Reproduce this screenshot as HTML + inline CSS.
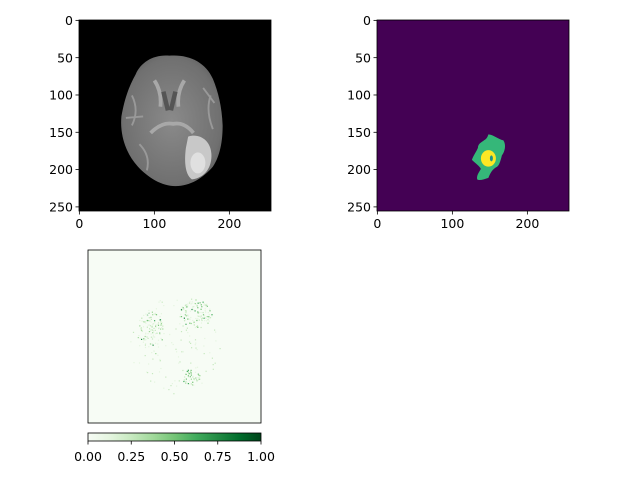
<!DOCTYPE html>
<html><head><meta charset="utf-8"><style>
body{margin:0;background:#fff}
svg{display:block;font-family:"DejaVu Sans","Liberation Sans",sans-serif}
text{font-size:12.5px;fill:#000}
</style></head><body>
<svg id="fig" width="640" height="480" viewBox="0 0 640 480" xmlns="http://www.w3.org/2000/svg">
<defs>
<linearGradient id="greens" x1="0" x2="1" y1="0" y2="0">
<stop offset="0" stop-color="#f7fcf5"/><stop offset="0.125" stop-color="#e5f5e0"/><stop offset="0.25" stop-color="#c7e9c0"/><stop offset="0.375" stop-color="#a1d99b"/><stop offset="0.5" stop-color="#74c476"/><stop offset="0.625" stop-color="#41ab5d"/><stop offset="0.75" stop-color="#238b45"/><stop offset="0.875" stop-color="#006d2c"/><stop offset="1" stop-color="#00441b"/>
</linearGradient>
<radialGradient id="brainShade" cx="0.5" cy="0.5" r="0.6">
<stop offset="0" stop-color="#8a8a8a"/><stop offset="0.8" stop-color="#707070"/><stop offset="1" stop-color="#5a5a5a"/>
</radialGradient>
<clipPath id="c1"><rect x="79" y="20" width="192" height="191"/></clipPath>
<clipPath id="c2"><rect x="377" y="20" width="192" height="191"/></clipPath>
</defs>

<g>
<rect x="79" y="20" width="192" height="191" fill="#000"/>
<g clip-path="url(#c1)">
<g transform="translate(79.4,20.4) scale(0.75)">
<path d="M120,47 C100,45 82,55 75,72 C66,88 60,105 56,128 C54,150 60,175 78,195 C92,210 110,221 128,221 C148,221 165,210 178,195 C188,180 191,160 191,140 C190,115 185,95 178,78 C168,55 145,45 120,47 Z" fill="url(#brainShade)"/>
<path d="M100,80 Q110,95 108,115 M140,80 Q130,95 132,115 M95,150 Q110,135 125,138 Q140,135 152,150" stroke="#a8a8a8" stroke-width="5" fill="none"/>
<path d="M112,95 L118,120 M128,95 L122,120" stroke="#555" stroke-width="6" fill="none"/>
<path d="M70,100 Q80,120 70,140 M175,100 Q168,120 178,145 M80,165 Q95,180 90,200 M62,130 L85,128 M165,90 L180,110" stroke="#999" stroke-width="2.5" fill="none"/>
<path d="M145,155 C160,150 175,160 176,178 C177,195 168,210 150,212 C140,205 140,185 142,170 Z" fill="#c8c8c8"/>
<ellipse cx="158" cy="190" rx="10" ry="14" fill="#e0e0e0"/>
</g>
</g>
<rect x="79" y="20" width="192" height="191" fill="none" stroke="#000" stroke-width="0.8"/>
<g id="ax1"></g>
</g>

<g>
<rect x="377" y="20" width="192" height="191" fill="#440154"/>
<g clip-path="url(#c2)">
<g transform="translate(377.4,20.4) scale(0.75)">
<path d="M148,152 C156,153 160,158 168,160 C172,166 170,175 166,180 C164,188 162,195 158,196 C152,200 150,205 148,210 C142,212 136,214 133,212 C132,206 136,202 138,198 C136,194 130,190 126,186 C128,180 132,175 134,170 C134,164 140,162 142,160 C146,158 147,155 148,152 Z" fill="#35b779"/>
<ellipse cx="148" cy="184" rx="10" ry="11" fill="#fde725"/>
<ellipse cx="152" cy="184" rx="2" ry="4" fill="#21918c"/>
</g>
</g>
<rect x="377" y="20" width="192" height="191" fill="none" stroke="#000" stroke-width="0.8"/>
<g id="ax2"></g>
</g>

<g>
<rect x="88" y="250" width="173" height="173" fill="#f7fcf5"/>
<g id="speckles"></g>
<rect x="88" y="250" width="173" height="173" fill="none" stroke="#000" stroke-width="0.8"/>
</g>

<g>
<rect x="88" y="433" width="173" height="8" fill="url(#greens)" stroke="#000" stroke-width="0.8"/>
<g id="cbticks"></g>
</g>
</svg>
<script>
const xTicks=[0,100,200];
const yTicks=[0,50,100,150,200,250];
const cbTicks=[0,0.25,0.5,0.75,1];
const cbLabels=["0.00","0.25","0.50","0.75","1.00"];
const NS="http://www.w3.org/2000/svg";
function mk(tag,attrs,parent){const e=document.createElementNS(NS,tag);for(const k in attrs)e.setAttribute(k,attrs[k]);parent.appendChild(e);return e;}
function axes(id,left,top,w,h){
  const g=document.getElementById(id);
  const sx=d=>left+(d+0.5)*w/256, sy=d=>top+(d+0.5)*h/256;
  xTicks.forEach(v=>{
    const x=sx(v);
    const l=mk('line',{x1:x,x2:x,y1:top+h,y2:top+h+3.5,stroke:'#000','stroke-width':0.8},g);
    
    
    const t=mk('text',{x:x,y:top+h+17,'text-anchor':'middle'},g);t.textContent=v;
    
    
  });
  yTicks.forEach(v=>{
    const y=sy(v);
    const l=mk('line',{x1:left-3.5,x2:left,y1:y,y2:y,stroke:'#000','stroke-width':0.8},g);
    
    
    const t=mk('text',{x:left-6,y:y+4.6,'text-anchor':'end'},g);t.textContent=v;
    
    
  });
}
axes('ax1',79,20,192,191);
axes('ax2',377,20,192,191);
const cb=document.getElementById('cbticks');
cbTicks.forEach((v,i)=>{
  const x=88+v*173;
  const l=mk('line',{x1:x,x2:x,y1:441,y2:444.5,stroke:'#000','stroke-width':0.8},cb);
  
  
  const t=mk('text',{x:x,y:461,'text-anchor':'middle'},cb);t.textContent=cbLabels[i];
  
  
});
let s=7;function rnd(){s=(s*16807)%2147483647;return s/2147483647;}
const sp=document.getElementById('speckles');
const clusters=[[150,333,14,22,110],[196,313,17,14,110],[191,377,9,8,50],[175,345,45,50,120]];
const cols=['#e5f5e0','#c7e9c0','#a1d99b','#74c476','#41ab5d','#238b45'];
clusters.forEach((c,ci)=>{
  for(let i=0;i<c[4];i++){
    const a=rnd()*6.283,r=Math.sqrt(rnd());
    const x=c[0]+Math.cos(a)*r*c[2],y=c[1]+Math.sin(a)*r*c[3];
    const col=ci===3?cols[Math.floor(rnd()*2)]:cols[Math.floor(rnd()*rnd()*6)];
    const d=mk('rect',{x:x.toFixed(1),y:y.toFixed(1),width:1.2,height:1.2,fill:col},sp);
    
    
  }
});
</script>
</body></html>
